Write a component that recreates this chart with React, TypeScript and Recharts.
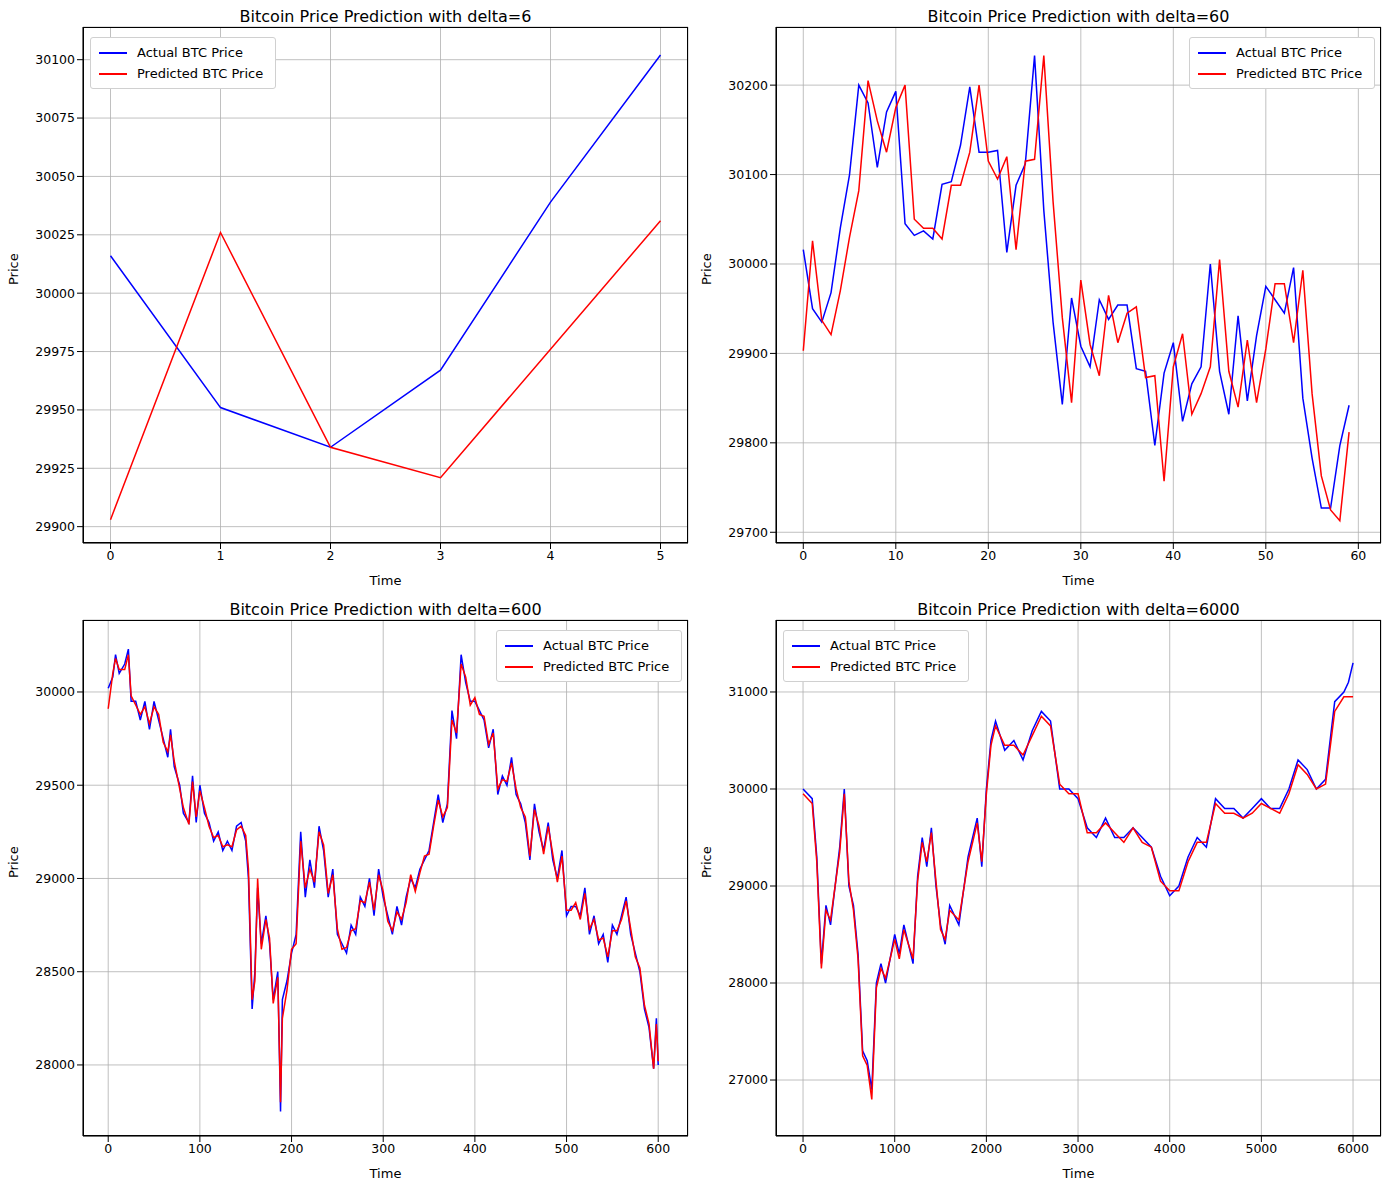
import { LineChart, Line, XAxis, YAxis, CartesianGrid } from "recharts"

// delta=6
const t6 = [0, 1, 2, 3, 4, 5]
const actual6 = [30016, 29951, 29934, 29967, 30039, 30102]
const pred6 = [29903, 30026, 29934, 29921, 29976, 30031]

// delta=60
const actual60 = [30016, 29950, 29935, 29968, 30040, 30100, 30200, 30180, 30108, 30170, 30193, 30045, 30032, 30037, 30028, 30089, 30092, 30133, 30198, 30125, 30125, 30127, 30013, 30088, 30112, 30233, 30060, 29935, 29843, 29962, 29908, 29885, 29960, 29938, 29954, 29954, 29883, 29880, 29797, 29878, 29912, 29824, 29866, 29885, 30000, 29880, 29832, 29942, 29847, 29920, 29975, 29960, 29945, 29996, 29850, 29783, 29727, 29727, 29797, 29842]
const pred60 = [29903, 30026, 29937, 29921, 29970, 30030, 30082, 30205, 30160, 30125, 30175, 30200, 30050, 30040, 30040, 30028, 30088, 30088, 30125, 30200, 30115, 30095, 30120, 30016, 30115, 30117, 30233, 30070, 29940, 29845, 29982, 29910, 29875, 29965, 29912, 29945, 29952, 29873, 29875, 29757, 29885, 29922, 29832, 29855, 29885, 30005, 29880, 29840, 29915, 29845, 29905, 29978, 29978, 29912, 29993, 29855, 29763, 29725, 29713, 29812]

// delta=600 (sampled)
const t600 = [0, 5, 8, 12, 18, 22, 25, 30, 35, 40, 45, 50, 55, 60, 65, 68, 72, 78, 82, 88, 92, 96, 100, 105, 110, 115, 120, 125, 130, 135, 140, 145, 150, 153, 157, 160, 163, 167, 172, 176, 180, 185, 188, 190, 195, 200, 205, 210, 215, 220, 225, 230, 235, 240, 245, 250, 255, 260, 265, 270, 275, 280, 285, 290, 295, 300, 305, 310, 315, 320, 325, 330, 335, 340, 345, 350, 355, 360, 365, 370, 375, 380, 385, 390, 395, 400, 405, 410, 415, 420, 425, 430, 435, 440, 445, 450, 455, 460, 465, 470, 475, 480, 485, 490, 495, 500, 505, 510, 515, 520, 525, 530, 535, 540, 545, 550, 555, 560, 565, 570, 575, 580, 585, 590, 595, 598, 600]
const actual600 = [30020, 30080, 30200, 30100, 30150, 30230, 29950, 29950, 29850, 29950, 29800, 29950, 29850, 29750, 29650, 29800, 29600, 29500, 29350, 29300, 29550, 29300, 29500, 29350, 29300, 29200, 29250, 29150, 29200, 29150, 29280, 29300, 29200, 29000, 28300, 28500, 28950, 28650, 28800, 28650, 28350, 28500, 27750, 28350, 28450, 28600, 28700, 29250, 28900, 29100, 28950, 29280, 29150, 28900, 29050, 28700, 28650, 28600, 28750, 28700, 28900, 28850, 29000, 28800, 29050, 28900, 28800, 28700, 28850, 28750, 28900, 29000, 28950, 29050, 29100, 29150, 29300, 29450, 29300, 29400, 29900, 29750, 30200, 30050, 29950, 29950, 29900, 29850, 29700, 29800, 29450, 29550, 29500, 29650, 29450, 29400, 29300, 29100, 29400, 29250, 29150, 29300, 29100, 29000, 29150, 28800, 28850, 28850, 28800, 28950, 28700, 28800, 28650, 28700, 28550, 28750, 28700, 28800, 28900, 28700, 28600, 28500, 28300, 28200, 27980, 28250, 28000]
const pred600 = [29910, 30100, 30180, 30120, 30120, 30200, 29980, 29930, 29880, 29920, 29830, 29920, 29880, 29730, 29680, 29770, 29630, 29480, 29380, 29290, 29520, 29330, 29470, 29380, 29280, 29220, 29230, 29170, 29180, 29170, 29260, 29280, 29230, 29050, 28350, 28450, 29000, 28620, 28780, 28680, 28330, 28470, 27800, 28250, 28400, 28620, 28650, 29200, 28950, 29050, 28980, 29250, 29180, 28920, 29020, 28730, 28620, 28630, 28720, 28730, 28880, 28870, 28980, 28830, 29020, 28930, 28770, 28720, 28820, 28780, 28870, 29020, 28930, 29030, 29120, 29130, 29280, 29420, 29330, 29380, 29850, 29780, 30150, 30080, 29930, 29970, 29880, 29870, 29720, 29780, 29480, 29530, 29520, 29620, 29480, 29380, 29330, 29120, 29370, 29280, 29130, 29280, 29130, 28980, 29120, 28830, 28830, 28870, 28780, 28920, 28730, 28780, 28670, 28680, 28580, 28720, 28720, 28780, 28880, 28730, 28580, 28520, 28320, 28220, 27980, 28220, 28020]

// delta=6000 (sampled)
const t6000 = [0, 100, 150, 200, 250, 300, 400, 450, 500, 550, 600, 650, 700, 750, 800, 850, 900, 1000, 1050, 1100, 1200, 1250, 1300, 1350, 1400, 1450, 1500, 1550, 1600, 1700, 1800, 1900, 1950, 2000, 2050, 2100, 2200, 2300, 2400, 2500, 2600, 2700, 2800, 2900, 3000, 3100, 3200, 3300, 3400, 3500, 3600, 3700, 3800, 3900, 4000, 4100, 4200, 4300, 4400, 4500, 4600, 4700, 4800, 4900, 5000, 5100, 5200, 5300, 5400, 5500, 5600, 5700, 5800, 5900, 5950, 6000]
const actual6000 = [30000, 29900, 29300, 28200, 28800, 28600, 29400, 30000, 29000, 28800, 28300, 27300, 27200, 26900, 28000, 28200, 28000, 28500, 28300, 28600, 28200, 29100, 29500, 29200, 29600, 29000, 28600, 28400, 28800, 28600, 29300, 29700, 29200, 30000, 30500, 30700, 30400, 30500, 30300, 30600, 30800, 30700, 30000, 30000, 29900, 29600, 29500, 29700, 29500, 29500, 29600, 29500, 29400, 29100, 28900, 29000, 29300, 29500, 29400, 29900, 29800, 29800, 29700, 29800, 29900, 29800, 29800, 30000, 30300, 30200, 30000, 30100, 30900, 31000, 31100, 31300]
const pred6000 = [29950, 29850, 29250, 28150, 28750, 28650, 29350, 29950, 29050, 28750, 28250, 27250, 27150, 26800, 27950, 28150, 28050, 28450, 28250, 28550, 28250, 29050, 29450, 29250, 29550, 29050, 28550, 28450, 28750, 28650, 29250, 29650, 29250, 29950, 30450, 30650, 30450, 30450, 30350, 30550, 30750, 30650, 30050, 29950, 29950, 29550, 29550, 29650, 29550, 29450, 29600, 29450, 29400, 29050, 28950, 28950, 29250, 29450, 29450, 29850, 29750, 29750, 29700, 29750, 29850, 29800, 29750, 29950, 30250, 30150, 30000, 30050, 30800, 30950, 30950, 30950]

const rows = (t: number[], a: number[], p: number[]) => t.map((x, i) => ({ t: x, actual: a[i], predicted: p[i] }))

const font = "DejaVu Sans, sans-serif"
const tick = { fontSize: 12.5, fill: "#000", fontFamily: font }

interface PanelProps {
  title: string
  data: { t: number; actual: number; predicted: number }[]
  left: number; top: number; w: number; h: number
  xDomain: [number, number]; xTicks: number[]
  yDomain: [number, number]; yTicks: number[]
  legendLeft: boolean
}

function Panel({ title, data, left, top, w, h, xDomain, xTicks, yDomain, yTicks, legendLeft }: PanelProps) {
  return (
    <>
      <div style={{ position: "absolute", left, top: top - 20, width: w, textAlign: "center", fontSize: 16, fontFamily: font }}>{title}</div>
      <div style={{ position: "absolute", left: left - 80, top: top - 10 }}>
        <LineChart width={w + 90} height={h + 60} data={data} margin={{ top: 10, right: 10, left: 10, bottom: 0 }}>
          <CartesianGrid stroke="#b0b0b0" strokeWidth={0.8} />
          <XAxis dataKey="t" type="number" domain={xDomain} ticks={xTicks} allowDataOverflow tick={tick} tickLine={{ stroke: "#000" }} axisLine={{ stroke: "#000" }}
            height={50} label={{ value: "Time", position: "insideBottom", offset: 8, fontSize: 13, fill: "#000", fontFamily: font }} />
          <YAxis type="number" domain={yDomain} ticks={yTicks} allowDataOverflow tick={tick} tickLine={{ stroke: "#000" }} axisLine={{ stroke: "#000" }}
            width={70} label={{ value: "Price", angle: -90, position: "insideLeft", offset: 0, fontSize: 13, fill: "#000", fontFamily: font }} />
          <Line dataKey="actual" stroke="#0000ff" strokeWidth={1.5} dot={false} isAnimationActive={false} />
          <Line dataKey="predicted" stroke="#ff0000" strokeWidth={1.5} dot={false} isAnimationActive={false} />
        </LineChart>
      </div>
      <div style={{ position: "absolute", left, top, width: w, height: h, border: "1px solid #000", boxSizing: "border-box", pointerEvents: "none" }} />
      <div style={{ position: "absolute", left: legendLeft ? left + 7 : left + w - 192, top: top + 10, width: 184, padding: "4px 0", background: "#fff", border: "1px solid #d0d0d0", borderRadius: 3, fontSize: 13, fontFamily: font }}>
        {[["Actual BTC Price", "#0000ff"], ["Predicted BTC Price", "#ff0000"]].map(([n, c]) => (
          <div key={n} style={{ display: "flex", alignItems: "center", height: 21, paddingLeft: 8 }}>
            <div style={{ width: 28, height: 2, background: c, marginRight: 10 }} />{n}
          </div>
        ))}
      </div>
    </>
  )
}

export default function App() {
  return (
    <div style={{ position: "absolute", left: 0, top: 0, width: 1390, height: 1189, background: "#fff" }}>
      <Panel title="Bitcoin Price Prediction with delta=6" data={rows(t6, actual6, pred6)} left={83} top={27} w={605} h={516}
        xDomain={[-0.25, 5.25]} xTicks={[0, 1, 2, 3, 4, 5]} yDomain={[29893, 30114]} yTicks={[29900, 29925, 29950, 29975, 30000, 30025, 30050, 30075, 30100]} legendLeft />
      <Panel title="Bitcoin Price Prediction with delta=60" data={rows(actual60.map((_, i) => i), actual60, pred60)} left={776} top={27} w={605} h={516}
        xDomain={[-2.95, 62.45]} xTicks={[0, 10, 20, 30, 40, 50, 60]} yDomain={[29688, 30265]} yTicks={[29700, 29800, 29900, 30000, 30100, 30200]} legendLeft={false} />
      <Panel title="Bitcoin Price Prediction with delta=600" data={rows(t600, actual600, pred600)} left={83} top={620} w={605} h={516}
        xDomain={[-27.5, 632.5]} xTicks={[0, 100, 200, 300, 400, 500, 600]} yDomain={[27619, 30386]} yTicks={[28000, 28500, 29000, 29500, 30000]} legendLeft={false} />
      <Panel title="Bitcoin Price Prediction with delta=6000" data={rows(t6000, actual6000, pred6000)} left={776} top={620} w={605} h={516}
        xDomain={[-295, 6305]} xTicks={[0, 1000, 2000, 3000, 4000, 5000, 6000]} yDomain={[26423, 31742]} yTicks={[27000, 28000, 29000, 30000, 31000]} legendLeft />
    </div>
  )
}
